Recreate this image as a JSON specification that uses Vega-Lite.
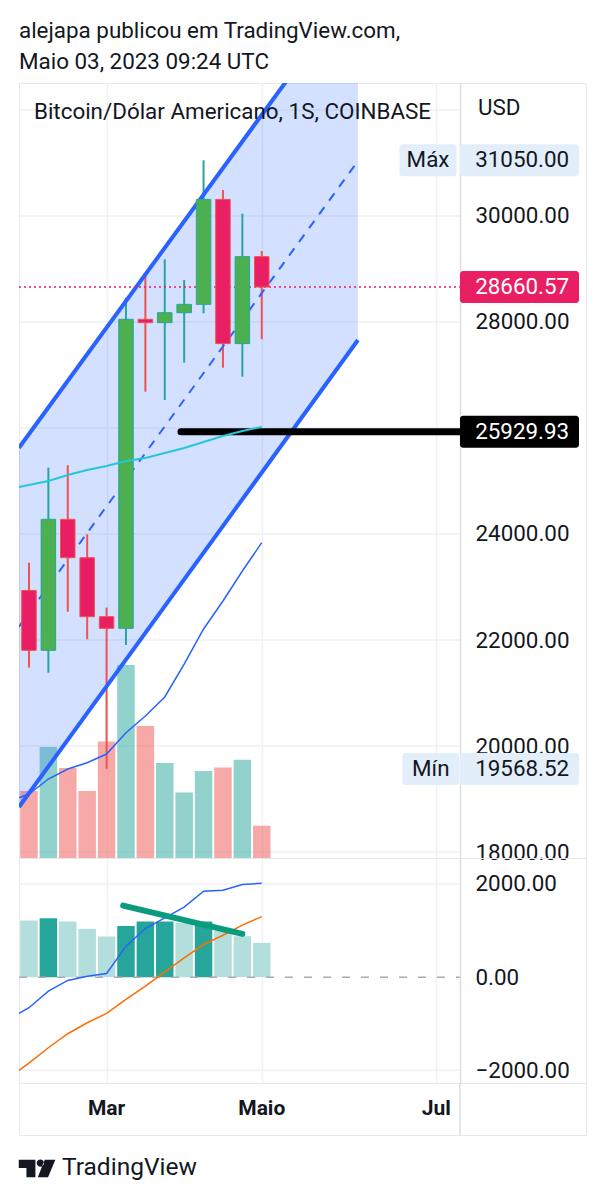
{
"$schema":"https://vega.github.io/schema/vega-lite/v6.json",
"background":"white",
"padding":{"left":14,"top":20,"right":0,"bottom":0},
"title":{"text":["alejapa publicou em TradingView.com,","Maio 03, 2023 09:24 UTC"],"anchor":"start","frame":"group","font":"Roboto","fontSize":22.4,"fontWeight":"normal","color":"#131722","lineHeight":31,"offset":9},
"config":{"font":"Roboto","view":{"stroke":"#E6E8EE"}},
"resolve":{"scale":{"color":"independent"}},
"datasets":{
"candles":[
{"date":"2023-02-06","open":22936,"high":23458,"low":21478,"close":21805,"volume":33500,"dir":"down","macd":1215,"shade":"light"},
{"date":"2023-02-13","open":21805,"high":25251,"low":21383,"close":24277,"volume":55500,"dir":"up","macd":1265,"shade":"dark"},
{"date":"2023-02-20","open":24277,"high":25296,"low":22534,"close":23553,"volume":45000,"dir":"down","macd":1194,"shade":"light"},
{"date":"2023-02-27","open":23553,"high":23994,"low":22013,"close":22440,"volume":33500,"dir":"down","macd":1036,"shade":"light"},
{"date":"2023-03-06","open":22440,"high":22610,"low":19568.52,"close":22220,"volume":58300,"dir":"down","macd":872,"shade":"light"},
{"date":"2023-03-13","open":22220,"high":28459,"low":21906,"close":28051,"volume":96500,"dir":"up","macd":1100,"shade":"dark"},
{"date":"2023-03-20","open":28051,"high":28911,"low":26685,"close":27987,"volume":66000,"dir":"down","macd":1194,"shade":"dark"},
{"date":"2023-03-27","open":27987,"high":29183,"low":26528,"close":28175,"volume":47500,"dir":"up","macd":1194,"shade":"dark"},
{"date":"2023-04-03","open":28175,"high":28792,"low":27234,"close":28333,"volume":32800,"dir":"up","macd":1164,"shade":"light"},
{"date":"2023-04-10","open":28333,"high":31050,"low":28163,"close":30313,"volume":43500,"dir":"up","macd":1194,"shade":"dark"},
{"date":"2023-04-17","open":30313,"high":30490,"low":27138,"close":27592,"volume":45300,"dir":"down","macd":1001,"shade":"light"},
{"date":"2023-04-24","open":27592,"high":30044,"low":26968,"close":29233,"volume":49150,"dir":"up","macd":879,"shade":"light"},
{"date":"2023-05-01","open":29233,"high":29340,"low":27674,"close":28660.57,"volume":16150,"dir":"down","macd":735,"shade":"light"}
],
"averages":[
{"date":"2023-02-02T09:36:00Z","long":19025,"short":24887,"signalLine":-2001,"macdLine":-779},
{"date":"2023-02-06","long":19094,"short":24925,"signalLine":-1844,"macdLine":-657},
{"date":"2023-02-13","long":19377,"short":25000,"signalLine":-1515,"macdLine":-300},
{"date":"2023-02-20","long":19566,"short":25113,"signalLine":-1215,"macdLine":-71},
{"date":"2023-02-27","long":19685,"short":25208,"signalLine":-979,"macdLine":21},
{"date":"2023-03-06","long":19849,"short":25283,"signalLine":-779,"macdLine":79},
{"date":"2023-03-13","long":20251,"short":25377,"signalLine":-479,"macdLine":665},
{"date":"2023-03-20","long":20566,"short":25434,"signalLine":-193,"macdLine":1043},
{"date":"2023-03-27","long":20925,"short":25528,"signalLine":114,"macdLine":1272},
{"date":"2023-04-03","long":21547,"short":25623,"signalLine":414,"macdLine":1501},
{"date":"2023-04-10","long":22208,"short":25736,"signalLine":700,"macdLine":1844},
{"date":"2023-04-17","long":22736,"short":25849,"signalLine":900,"macdLine":1865},
{"date":"2023-04-24","long":23302,"short":25943,"signalLine":1115,"macdLine":1987},
{"date":"2023-05-01","long":23836,"short":26025,"signalLine":1300,"macdLine":2015}
],
"channel":[
{"date":"2023-02-02T09:36:00Z","top":25628,"mid":22251,"bottom":18849},
{"date":"2023-06-04T17:00:00Z","top":34396,"mid":31038,"bottom":27660}
],
"priceGrid":[
{"price":18000,"start":"2023-02-02T09:36:00Z","end":"2023-07-11T12:00:00Z"},
{"price":20000,"start":"2023-02-02T09:36:00Z","end":"2023-07-11T12:00:00Z"},
{"price":22000,"start":"2023-02-02T09:36:00Z","end":"2023-07-11T12:00:00Z"},
{"price":24000,"start":"2023-02-02T09:36:00Z","end":"2023-07-11T12:00:00Z"},
{"price":26000,"start":"2023-02-02T09:36:00Z","end":"2023-07-11T12:00:00Z"},
{"price":28000,"start":"2023-02-02T09:36:00Z","end":"2023-07-11T12:00:00Z"},
{"price":30000,"start":"2023-02-02T09:36:00Z","end":"2023-07-11T12:00:00Z"},
{"price":32000,"start":"2023-02-02T09:36:00Z","end":"2023-07-11T12:00:00Z"}
],
"macdGrid":[
{"value":-2000,"start":"2023-02-02T09:36:00Z","end":"2023-07-11T12:00:00Z"},
{"value":2000,"start":"2023-02-02T09:36:00Z","end":"2023-07-11T12:00:00Z"}
]
},
"bounds":"flush",
"spacing":0,
"vconcat":[
{
"width":567,"height":775,
"resolve":{"scale":{"y":"independent"}},
"layer":[
{"data":{"name":"priceGrid"},"mark":{"type":"rule","color":"#EFF1F6","strokeWidth":1.5},
"encoding":{
"x":{"field":"start","type":"temporal","scale":{"type":"utc","nice":false,"padding":0,"domain":[1675330560000,1693008000000]},"axis":{"values":[1678060800000,1682899200000,1688342400000],"grid":true,"gridColor":"#EFF1F6","gridWidth":1.5,"labels":false,"ticks":false,"domain":false,"title":null}},
"x2":{"field":"end"},
"y":{"field":"price","type":"quantitative","scale":{"domain":[17887,32509],"nice":false},"axis":null}}},
{"data":{"name":"candles"},"mark":{"type":"bar","width":17.5,"opacity":0.5},
"encoding":{
"x":{"field":"date","type":"temporal"},
"y":{"field":"volume","type":"quantitative","scale":{"domain":[0,387500],"nice":false},"axis":null},
"color":{"field":"dir","type":"nominal","scale":{"domain":["up","down"],"range":["#26A69A","#EF5350"]},"legend":null}}},
{"layer":[
{"data":{"name":"channel"},"mark":{"type":"area","clip":true,"color":"#2962FF","opacity":0.2},
"encoding":{
"x":{"field":"date","type":"temporal"},
"y":{"field":"top","type":"quantitative","scale":{"domain":[17887,32509],"nice":false,"zero":false},"axis":{"orient":"right","offset":-126,"values":[18000,20000,22000,24000,28000,30000],"format":".2f","grid":false,"ticks":false,"title":null,"domainColor":"#DADDE5","domainWidth":1.5,"labelFont":"Roboto","labelFontSize":22.4,"labelColor":"#131722","labelPadding":15,"labelOverlap":false,"labelBound":false}},
"y2":{"field":"bottom"}}},
{"data":{"name":"candles"},"mark":{"type":"rule","strokeWidth":2},
"encoding":{
"x":{"field":"date","type":"temporal"},
"y":{"field":"low","type":"quantitative"},
"y2":{"field":"high"},
"stroke":{"field":"dir","type":"nominal","scale":{"domain":["up","down"],"range":["#26A69A","#EF5350"]},"legend":null}}},
{"data":{"name":"channel"},"mark":{"type":"line","clip":true,"color":"#2962FF","strokeWidth":4},
"encoding":{"x":{"field":"date","type":"temporal"},"y":{"field":"top","type":"quantitative"}}},
{"data":{"name":"channel"},"mark":{"type":"line","clip":true,"color":"#2962FF","strokeWidth":2,"strokeDash":[9,8]},
"encoding":{"x":{"field":"date","type":"temporal"},"y":{"field":"mid","type":"quantitative"}}},
{"data":{"name":"channel"},"mark":{"type":"line","clip":true,"color":"#2962FF","strokeWidth":4},
"encoding":{"x":{"field":"date","type":"temporal"},"y":{"field":"bottom","type":"quantitative"}}},
{"data":{"values":[{"price":28660.57,"start":"2023-02-02T09:36:00Z","end":"2023-07-11T12:00:00Z"}]},"mark":{"type":"rule","color":"#E91E63","strokeWidth":1.5,"strokeDash":[2,3]},
"encoding":{"x":{"field":"start","type":"temporal"},"x2":{"field":"end"},"y":{"field":"price","type":"quantitative"}}},
{"data":{"name":"candles"},"mark":{"type":"bar","width":14.5,"strokeWidth":1},
"encoding":{
"x":{"field":"date","type":"temporal"},
"y":{"field":"open","type":"quantitative"},
"y2":{"field":"close"},
"fill":{"field":"dir","type":"nominal","scale":{"domain":["up","down"],"range":["#4CAF50","#E91E63"]},"legend":null},
"stroke":{"field":"dir","type":"nominal","legend":null}}},
{"data":{"values":[{"price":25929.93,"start":"2023-04-01T20:00:00Z","end":"2023-07-11T12:00:00Z"}]},"mark":{"type":"rule","color":"#000000","strokeWidth":7,"strokeCap":"round"},
"encoding":{"x":{"field":"start","type":"temporal"},"x2":{"field":"end"},"y":{"field":"price","type":"quantitative"}}},
{"data":{"name":"averages"},"mark":{"type":"line","color":"#26C6DA","strokeWidth":2},
"encoding":{"x":{"field":"date","type":"temporal"},"y":{"field":"short","type":"quantitative"}}},
{"data":{"name":"averages"},"mark":{"type":"line","color":"#2962FF","strokeWidth":1.5},
"encoding":{"x":{"field":"date","type":"temporal"},"y":{"field":"long","type":"quantitative"}}},
{"data":{"values":[{"date":"2023-06-30","price":31050},{"date":"2023-07-01","price":19568.52}]},"mark":{"type":"rect","width":57,"height":32,"cornerRadius":3,"color":"#E3EEFB"},
"encoding":{"x":{"field":"date","type":"temporal"},"y":{"field":"price","type":"quantitative"}}},
{"data":{"values":[{"date":"2023-08-02","price":31050},{"date":"2023-08-02","price":19568.52}]},"mark":{"type":"rect","width":119,"height":32,"cornerRadius":3,"color":"#E3EEFB"},
"encoding":{"x":{"field":"date","type":"temporal"},"y":{"field":"price","type":"quantitative"}}},
{"data":{"values":[{"date":"2023-08-02","price":28660.57}]},"mark":{"type":"rect","width":119,"height":32,"cornerRadius":3,"color":"#E91E63"},
"encoding":{"x":{"field":"date","type":"temporal"},"y":{"field":"price","type":"quantitative"}}},
{"data":{"values":[{"date":"2023-08-02","price":25929.93}]},"mark":{"type":"rect","width":119,"height":32,"cornerRadius":3,"color":"#000000"},
"encoding":{"x":{"field":"date","type":"temporal"},"y":{"field":"price","type":"quantitative"}}},
{"data":{"values":[{"date":"2023-07-17","price":31050,"label":"31050.00"},{"date":"2023-07-17","price":19568.52,"label":"19568.52"},{"date":"2023-07-18","price":32038,"label":"USD"},{"date":"2023-02-07T19:00:00Z","price":31962,"label":"Bitcoin/Dólar Americano, 1S, COINBASE"}]},"mark":{"type":"text","align":"left","baseline":"middle","fontSize":22.4,"color":"#131722"},
"encoding":{"x":{"field":"date","type":"temporal"},"y":{"field":"price","type":"quantitative"},"text":{"field":"label"}}},
{"data":{"values":[{"date":"2023-06-30","price":31050,"label":"Máx"},{"date":"2023-07-01","price":19568.52,"label":"Mín"}]},"mark":{"type":"text","align":"center","baseline":"middle","fontSize":22.4,"color":"#131722"},
"encoding":{"x":{"field":"date","type":"temporal"},"y":{"field":"price","type":"quantitative"},"text":{"field":"label"}}},
{"data":{"values":[{"date":"2023-07-17","price":28660.57,"label":"28660.57"},{"date":"2023-07-17","price":25929.93,"label":"25929.93"}]},"mark":{"type":"text","align":"left","baseline":"middle","fontSize":22.4,"color":"#FFFFFF"},
"encoding":{"x":{"field":"date","type":"temporal"},"y":{"field":"price","type":"quantitative"},"text":{"field":"label"}}}
]}
]
},
{
"width":567,"height":225,
"layer":[
{"data":{"name":"macdGrid"},"mark":{"type":"rule","color":"#EFF1F6","strokeWidth":1.5},
"encoding":{
"x":{"field":"start","type":"temporal","scale":{"type":"utc","nice":false,"padding":0,"domain":[1675330560000,1693008000000]},"axis":{"values":[1678060800000,1682899200000,1688342400000],"grid":true,"gridColor":"#EFF1F6","gridWidth":1.5,"labels":false,"ticks":false,"domain":false,"title":null}},
"x2":{"field":"end"},
"y":{"field":"value","type":"quantitative","scale":{"domain":[-2272,2557],"nice":false,"zero":false},"axis":{"orient":"right","offset":-126,"values":[-2000,0,2000],"format":".2f","grid":false,"ticks":false,"title":null,"domainColor":"#DADDE5","domainWidth":1.5,"labelFont":"Roboto","labelFontSize":22.4,"labelColor":"#131722","labelPadding":15,"labelOverlap":false,"labelBound":false}}}},
{"data":{"name":"candles"},"mark":{"type":"bar","width":17.5},
"encoding":{
"x":{"field":"date","type":"temporal"},
"y":{"field":"macd","type":"quantitative"},
"color":{"field":"shade","type":"nominal","scale":{"domain":["light","dark"],"range":["#B2DFDB","#26A69A"]},"legend":null}}},
{"data":{"values":[{"value":0,"start":"2023-02-02T09:36:00Z","end":"2023-07-11T12:00:00Z"}]},"mark":{"type":"rule","color":"#A8ABB3","strokeWidth":1.5,"strokeDash":[8,11]},
"encoding":{"x":{"field":"start","type":"temporal"},"x2":{"field":"end"},"y":{"field":"value","type":"quantitative"}}},
{"data":{"name":"averages"},"mark":{"type":"line","color":"#FF6D00","strokeWidth":1.5},
"encoding":{"x":{"field":"date","type":"temporal"},"y":{"field":"signalLine","type":"quantitative"}}},
{"data":{"name":"averages"},"mark":{"type":"line","color":"#2962FF","strokeWidth":1.5},
"encoding":{"x":{"field":"date","type":"temporal"},"y":{"field":"macdLine","type":"quantitative"}}},
{"data":{"values":[{"date":"2023-03-12","value":1536},{"date":"2023-04-24","value":929}]},"mark":{"type":"line","color":"#0A9A7E","strokeWidth":6,"strokeCap":"round"},
"encoding":{"x":{"field":"date","type":"temporal"},"y":{"field":"value","type":"quantitative"}}}
]
},
{
"width":567,"height":52,
"layer":[
{"data":{"values":[{"date":"2023-07-11T12:00:00Z"}]},"mark":{"type":"rule","color":"#DADDE5","strokeWidth":1.5},
"encoding":{"x":{"field":"date","type":"temporal","scale":{"type":"utc","domain":[1675330560000,1693008000000]},"axis":null}}},
{"data":{"values":[{"date":"2023-03-06","label":"Mar"},{"date":"2023-05-01","label":"Maio"},{"date":"2023-07-03","label":"Jul"}]},"mark":{"type":"text","font":"Roboto","fontSize":21,"fontWeight":"bold","color":"#131722"},
"encoding":{"x":{"field":"date","type":"temporal","axis":null},"text":{"field":"label"}}}
]
},
{
"width":567,"height":66,"view":{"stroke":null},
"layer":[
{"data":{"values":[{"date":"2023-02-08T22:00:00Z","pos":0.5}]},"mark":{"type":"point","filled":true,"opacity":1,"color":"#131722","size":1340,"shape":"M-1,-0.455H-0.09V0.51H-0.58V0H-1Z M-0.02,-0.27A0.2,0.2 0 1 0 0.38,-0.27A0.2,0.2 0 1 0 -0.02,-0.27Z M0.42,-0.455H1L0.6,0.51H0.04Z"},
"encoding":{"x":{"field":"date","type":"temporal","scale":{"type":"utc","domain":[1675330560000,1693008000000]},"axis":null},"y":{"field":"pos","type":"quantitative","scale":{"domain":[0,1]},"axis":null}}},
{"data":{"values":[{"date":"2023-02-17T22:00:00Z","pos":0.5,"label":"TradingView"}]},"mark":{"type":"text","align":"left","baseline":"middle","font":"Roboto","fontSize":24.5,"color":"#131722"},
"encoding":{"x":{"field":"date","type":"temporal","axis":null},"y":{"field":"pos","type":"quantitative","axis":null},"text":{"field":"label"}}}
]
}
]
}
